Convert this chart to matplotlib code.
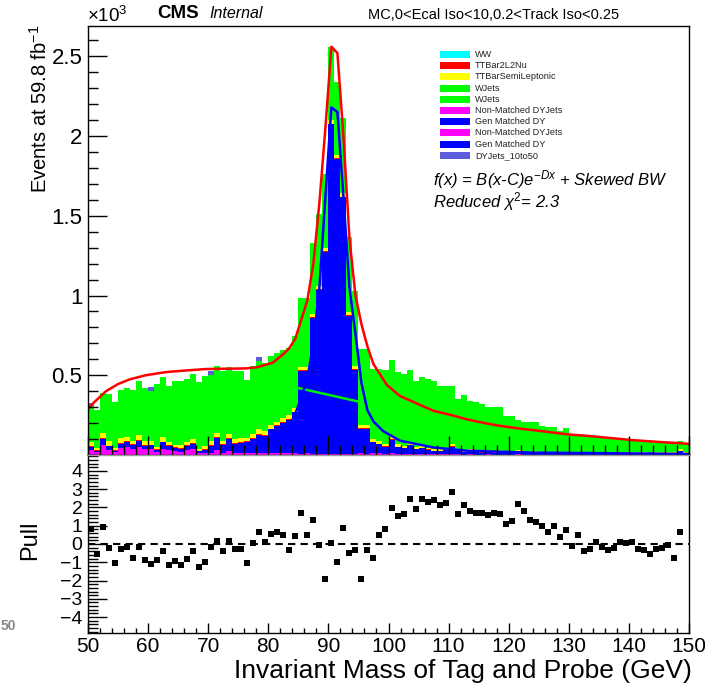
import numpy as np
import matplotlib
matplotlib.use("Agg")
from matplotlib import pyplot as plt
from matplotlib.patches import Rectangle
from matplotlib.ticker import MultipleLocator, FixedLocator, FormatStrFormatter

plt.rcParams["font.family"] = ["Liberation Sans", "DejaVu Sans"]
plt.rcParams["mathtext.fontset"] = "custom"
plt.rcParams["mathtext.rm"] = "Liberation Sans"
plt.rcParams["mathtext.it"] = "Liberation Sans:italic"
plt.rcParams["mathtext.bf"] = "Liberation Sans:bold"

W, H = 705, 691

# ---------------- data (events / 10^3 per 1 GeV bin, 50..150 GeV) ----------------
bin_edges = np.arange(50, 151, 1)

# top of the full stack (WJets top)
total_top = [
    0.305, 0.283, 0.390, 0.380, 0.330, 0.410, 0.420, 0.410, 0.465, 0.420,
    0.400, 0.445, 0.486, 0.435, 0.465, 0.465, 0.475, 0.507, 0.455, 0.497,
    0.500, 0.560, 0.524, 0.553, 0.524, 0.524, 0.470, 0.560, 0.587, 0.580,
    0.622, 0.640, 0.658, 0.670, 0.748, 0.985, 0.985, 1.330, 1.510, 1.765,
    2.560, 2.340, 2.110, 1.370, 1.030, 0.665, 0.665, 0.540, 0.540, 0.530,
    0.597, 0.522, 0.507, 0.533, 0.465, 0.486, 0.476, 0.465, 0.434, 0.434,
    0.434, 0.350, 0.377, 0.340, 0.330, 0.319, 0.302, 0.302, 0.302, 0.245,
    0.245, 0.220, 0.207, 0.207, 0.207, 0.182, 0.176, 0.176, 0.151, 0.168,
    0.134, 0.130, 0.120, 0.120, 0.113, 0.109, 0.105, 0.099, 0.099, 0.099,
    0.092, 0.088, 0.084, 0.084, 0.078, 0.078, 0.076, 0.071, 0.088, 0.071,
]

# top of DY + ttbar part (below WJets)
dy_tt_top = [
    0.080, 0.045, 0.140, 0.088, 0.046, 0.105, 0.113, 0.088, 0.123, 0.088,
    0.085, 0.050, 0.113, 0.080, 0.063, 0.063, 0.080, 0.100, 0.040, 0.056,
    0.088, 0.140, 0.088, 0.134, 0.100, 0.105, 0.108, 0.129, 0.160, 0.150,
    0.190, 0.210, 0.230, 0.250, 0.297, 0.550, 0.550, 0.885, 1.060, 1.300,
    2.100, 1.880, 1.640, 0.895, 0.560, 0.190, 0.190, 0.099, 0.087, 0.070,
    0.120, 0.067, 0.057, 0.078, 0.050, 0.057, 0.046, 0.036, 0.036, 0.046,
    0.070, 0.040, 0.030, 0.035, 0.030, 0.025, 0.030, 0.025, 0.030, 0.025,
    0.020, 0.030, 0.020, 0.020, 0.025, 0.020, 0.020, 0.020, 0.018, 0.020,
    0.018, 0.020, 0.018, 0.018, 0.020, 0.018, 0.018, 0.018, 0.020, 0.020,
    0.018, 0.018, 0.018, 0.015, 0.018, 0.018, 0.018, 0.020, 0.040, 0.020,
]

tt_semilep = [
    0.025, 0.015, 0.035, 0.030, 0.015, 0.030, 0.025, 0.020, 0.030, 0.025,
    0.020, 0.015, 0.030, 0.020, 0.015, 0.020, 0.020, 0.025, 0.012, 0.020,
    0.025, 0.030, 0.020, 0.030, 0.025, 0.025, 0.020, 0.025, 0.030, 0.025,
    0.025, 0.025, 0.025, 0.025, 0.025, 0.020, 0.020, 0.020, 0.020, 0.020,
    0.022, 0.020, 0.020, 0.020, 0.020, 0.020, 0.020, 0.015, 0.015, 0.015,
    0.020, 0.015, 0.012, 0.015, 0.012, 0.012, 0.010, 0.010, 0.010, 0.012,
    0.015, 0.010, 0.010, 0.010, 0.008, 0.008, 0.010, 0.008, 0.010, 0.008,
    0.008, 0.010, 0.008, 0.008, 0.010, 0.008, 0.008, 0.008, 0.006, 0.008,
    0.006, 0.008, 0.006, 0.006, 0.008, 0.006, 0.006, 0.006, 0.008, 0.008,
    0.006, 0.006, 0.006, 0.005, 0.006, 0.006, 0.006, 0.008, 0.015, 0.008,
]

tt_2l2nu = [
    0.004, 0.003, 0.005, 0.004, 0.003, 0.004, 0.004, 0.004, 0.005, 0.004,
    0.004, 0.003, 0.004, 0.004, 0.003, 0.004, 0.004, 0.004, 0.003, 0.004,
    0.004, 0.005, 0.004, 0.005, 0.004, 0.004, 0.004, 0.004, 0.005, 0.004,
    0.004, 0.004, 0.004, 0.004, 0.004, 0.004, 0.004, 0.004, 0.004, 0.004,
    0.004, 0.004, 0.004, 0.004, 0.004, 0.004, 0.004, 0.003, 0.003, 0.003,
    0.003, 0.003, 0.003, 0.003, 0.003, 0.003, 0.003, 0.002, 0.002, 0.003,
    0.003, 0.002, 0.002, 0.002, 0.002, 0.002, 0.002, 0.002, 0.002, 0.002,
    0.002, 0.002, 0.002, 0.002, 0.002, 0.002, 0.002, 0.002, 0.002, 0.002,
    0.002, 0.002, 0.002, 0.002, 0.002, 0.002, 0.002, 0.002, 0.002, 0.002,
    0.002, 0.002, 0.002, 0.002, 0.002, 0.002, 0.002, 0.002, 0.003, 0.002,
]

dy_nonmatched = [
    0.030, 0.018, 0.060, 0.032, 0.017, 0.043, 0.050, 0.038, 0.053, 0.035,
    0.035, 0.018, 0.040, 0.030, 0.025, 0.020, 0.030, 0.035, 0.012, 0.015,
    0.015, 0.030, 0.015, 0.025, 0.015, 0.015, 0.015, 0.012, 0.015, 0.012,
    0.010, 0.012, 0.010, 0.010, 0.010, 0.005, 0.012, 0.005, 0.008, 0.005,
    0.008, 0.005, 0.005, 0.008, 0.005, 0.010, 0.008, 0.012, 0.010, 0.008,
    0.010, 0.008, 0.005, 0.008, 0.005, 0.005, 0.005, 0.004, 0.004, 0.005,
    0.008, 0.004, 0.003, 0.004, 0.003, 0.003, 0.004, 0.003, 0.003, 0.003,
    0.003, 0.004, 0.003, 0.003, 0.003, 0.003, 0.003, 0.003, 0.003, 0.003,
    0.003, 0.003, 0.003, 0.003, 0.003, 0.003, 0.003, 0.003, 0.003, 0.003,
    0.003, 0.003, 0.003, 0.003, 0.003, 0.003, 0.003, 0.003, 0.005, 0.003,
]

# DYJets_10to50 only shows up in a few bins (on top of the stack)
dy10_bins = [50, 60, 70, 78]
dy10_vals = [0.022, 0.025, 0.024, 0.026]

# fit curves
fit_x = [50, 51, 53, 55, 57, 59.6, 63, 66.3, 69.6, 73, 76.3, 78.1, 80.8, 82.5,
         83.5, 84.5, 85.5, 86.5, 87.5, 88.5, 89.5, 90.5, 91.5, 92.5, 93.5, 94.5,
         95.5, 96.5, 97.5, 99.7, 101.9, 104.9, 107.5, 110.5, 113, 116, 118.5,
         121.5, 125, 129.6, 134, 140.7, 145, 150]
fit_y = [0.287, 0.33, 0.40, 0.445, 0.475, 0.50, 0.52, 0.53, 0.539, 0.541, 0.543,
         0.55, 0.58, 0.633, 0.67, 0.73, 0.85, 0.97, 1.20, 1.58, 2.05, 2.56, 2.52,
         2.0, 1.36, 1.0, 0.82, 0.68, 0.57, 0.44, 0.37, 0.32, 0.277, 0.25, 0.224,
         0.20, 0.183, 0.167, 0.152, 0.13, 0.117, 0.093, 0.082, 0.07]

sig_x = [80, 82, 83.5, 84.5, 85.5, 86.5, 87.5, 88.5, 89.5, 90.5, 91.5, 92.5, 93.5,
         94.5, 95.5, 96.5, 97.5, 99.1, 101.9, 107.5, 113, 124, 150]
sig_y = [0.08, 0.12, 0.18, 0.26, 0.36, 0.48, 0.70, 1.05, 1.62, 2.18, 2.15, 1.62,
         1.05, 0.76, 0.45, 0.28, 0.21, 0.15, 0.09, 0.047, 0.027, 0.015, 0.007]

bkg_x = [85, 95]
bkg_y = [0.42, 0.335]

# pull per bin (bin centres 50.5 ... 148.5)
pull_mass = np.arange(50.5, 149.0, 1.0)
pull_vals = [
    0.84, -0.53, 0.91, -0.24, -1.04, -0.29, -0.15, -0.75, -0.15, -0.89,
    -1.07, -0.89, -0.36, -1.15, -0.93, -1.15, -0.80, -0.38, -1.27, -0.98,
    -0.18, 0.18, -0.40, 0.16, -0.29, -0.27, -1.05, 0.07, 0.67, 0.11,
    0.53, 0.64, 0.51, -0.31, 0.42, 1.69, 0.47, 1.29, -0.04, -1.93,
    0.04, -0.98, 0.87, -0.47, -0.35, -1.93, -0.35, -0.76, 0.47, 0.80,
    1.98, 1.55, 1.64, 2.45, 1.93, 2.44, 2.31, 2.40, 2.13, 2.27,
    2.82, 1.65, 2.15, 1.82, 1.67, 1.71, 1.60, 1.69, 1.65, 1.11,
    1.24, 2.18, 1.82, 1.29, 1.18, 0.96, 0.67, 1.00, 0.40, 0.78,
    -0.13, 0.47, -0.40, -0.27, 0.11, -0.16, -0.35, -0.24, 0.11, 0.07,
    0.13, -0.29, -0.35, -0.56, -0.29, -0.22, -0.04, -0.75, 0.65,
]

legend_labels = ["WW", "TTBar2L2Nu", "TTBarSemiLeptonic", "WJets", "WJets",
                 "Non-Matched DYJets", "Gen Matched DY", "Non-Matched DYJets",
                 "Gen Matched DY", "DYJets_10to50"]
legend_colors = ["#00ffff", "#ff0000", "#ffff00", "#00ff00", "#00ff00",
                 "#ff00ff", "#0000ff", "#ff00ff", "#0000ff", "#5c5cdc"]

# ---------------- derived stack components ----------------
total_top = np.array(total_top)
dy_tt_top = np.array(dy_tt_top)
tt_semilep = np.array(tt_semilep)
tt_2l2nu = np.array(tt_2l2nu)
dy_nonmatched = np.array(dy_nonmatched)
gen_matched = dy_tt_top - tt_semilep - tt_2l2nu - dy_nonmatched
wjets = total_top - dy_tt_top
dy_10to50 = np.zeros(len(total_top))
for b, v in zip(dy10_bins, dy10_vals):
    dy_10to50[b - 50] = v


def fx(x):
    return x / W


def fy(y):
    return 1 - y / H


fig = plt.figure(figsize=(W / 100, H / 100), dpi=100)
ax = fig.add_axes([fx(88), fy(455), (689 - 88) / W, (455 - 26) / H])
axp = fig.add_axes([fx(88), fy(633), (689 - 88) / W, (633 - 455) / H])

# stacked histogram, bottom to top
layers = [
    (dy_nonmatched, "#ff00ff"),
    (gen_matched, "#0000ff"),
    (tt_2l2nu, "#ff0000"),
    (tt_semilep, "#ffff00"),
    (wjets, "#00ff00"),
    (dy_10to50, "#5c5cdc"),
]
base = np.zeros(len(total_top))
for vals, col in layers:
    ax.stairs(base + vals, bin_edges, baseline=base.copy(), fill=True,
              color=col, lw=0)
    base = base + vals

# fit curves
ax.plot(bkg_x, bkg_y, color="#00ee00", lw=1.8)
ax.plot(sig_x, sig_y, color="#0000ff", lw=1.8)
ax.plot(fit_x, fit_y, color="#ff0000", lw=1.8)

ax.set_xlim(50, 150)
ax.set_ylim(0, 2.69)
ax.set_axisbelow(False)
ax.yaxis.set_major_locator(FixedLocator([0.5, 1.0, 1.5, 2.0, 2.5]))
ax.yaxis.set_major_formatter(FormatStrFormatter("%g"))
ax.yaxis.set_minor_locator(MultipleLocator(0.1))
ax.xaxis.set_major_locator(MultipleLocator(10))
ax.xaxis.set_minor_locator(MultipleLocator(2))
ax.tick_params(which="both", direction="in", width=1.0, top=False, right=False,
               labelbottom=False)
ax.tick_params(which="major", length=14, labelsize=16, pad=4)
ax.tick_params(which="minor", length=7)
for s in ax.spines.values():
    s.set_linewidth(1.0)

# pull panel
axp.axhline(0, color="black", lw=1.5, ls=(0, (3.5, 2.5)))
axp.plot(pull_mass, pull_vals, "s", color="black", ms=5, mew=0)
axp.set_xlim(50, 150)
axp.set_ylim(-4.87, 4.87)
axp.yaxis.set_major_locator(MultipleLocator(1))
axp.yaxis.set_minor_locator(MultipleLocator(0.2))
axp.xaxis.set_major_locator(MultipleLocator(10))
axp.xaxis.set_minor_locator(MultipleLocator(2))
axp.tick_params(which="both", direction="in", width=1.0, top=False, right=False)
axp.tick_params(axis="y", which="major", length=14, labelsize=14, pad=4)
axp.tick_params(axis="y", which="minor", length=7)
axp.tick_params(axis="x", which="major", length=7, labelsize=15, pad=3)
axp.tick_params(axis="x", which="minor", length=3.5)
for s in axp.spines.values():
    s.set_linewidth(1.0)
axp.spines["top"].set_color("#999999")

# titles and labels
fig.text(fx(87), fy(16), "\u00d710$^{3}$", fontsize=13.5, ha="left", va="center")
fig.text(fx(157), fy(14), "CMS", fontsize=13.5, fontweight="bold",
         ha="left", va="center")
fig.text(fx(209), fy(14), "Internal", fontsize=11.5, style="italic",
         ha="left", va="center")
fig.text(fx(368), fy(15), "MC,0<Ecal Iso<10,0.2<Track Iso<0.25", fontsize=10.5,
         ha="left", va="center")
fig.text(fx(40), fy(25), "Events at 59.8 fb$^{-1}$", fontsize=14.5,
         rotation=90, ha="center", va="top")
fig.text(fx(30), fy(540), "Pull", fontsize=17, rotation=90,
         ha="center", va="center")
fig.text(fx(692), fy(671), "Invariant Mass of Tag and Probe (GeV)", fontsize=19,
         ha="right", va="center")
fig.text(fx(433), fy(180), "f(x) = B(x-C)e$^{-Dx}$ + Skewed BW", fontsize=12,
         style="italic", ha="left", va="center")
fig.text(fx(433), fy(202), "Reduced $\\chi^{2}$= 2.3", fontsize=12,
         style="italic", ha="left", va="center")

# legend
row_y0, row_dy = 54.5, 11.2
for i, (lab, col) in enumerate(zip(legend_labels, legend_colors)):
    yc = row_y0 + i * row_dy
    fig.add_artist(Rectangle((fx(440), fy(yc + 3.5)), 30 / W, 7 / H,
                             transform=fig.transFigure, color=col, lw=0))
    fig.text(fx(475), fy(yc), lab, fontsize=6.6, ha="left", va="center",
             color="#222222")

# leftover text at the left border of the screenshot
fig.text(fx(1), fy(626), "50", fontsize=10, fontweight="bold", color="#8a8a8a",
         ha="left", va="center")

plt.savefig("out.png", dpi=100)
